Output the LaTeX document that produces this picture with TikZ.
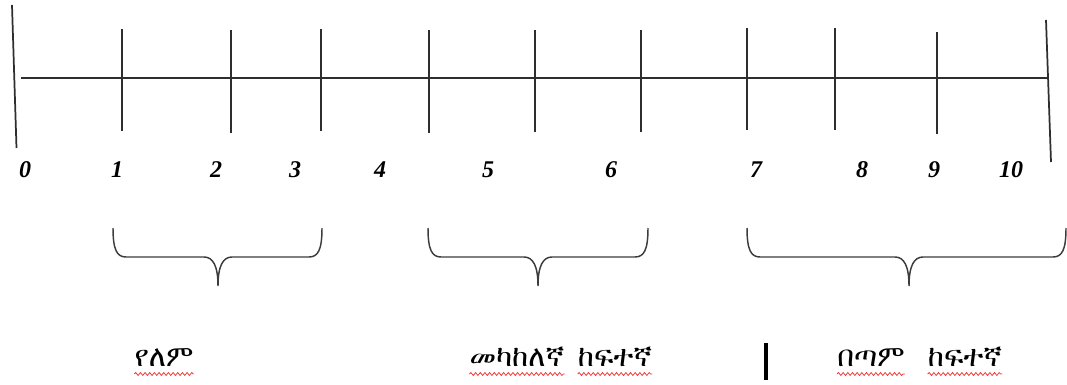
\documentclass[tikz,border=0pt]{standalone}
\usepackage{fontspec}
\setmainfont{Liberation Serif}
\IfFontExistsTF{FreeSerif}{\newfontfamily\ethfont{FreeSerif}}{%
  \IfFontExistsTF{Abyssinica SIL}{\newfontfamily\ethfont{Abyssinica SIL}}{%
    \IfFontExistsTF{FreeSans}{\newfontfamily\ethfont{FreeSans}}{\newfontfamily\ethfont{DejaVu Sans}}}}
\usetikzlibrary{positioning,decorations.pathmorphing}
\definecolor{axisgray}{HTML}{2E2E2E}
\definecolor{bracegray}{HTML}{3C3C3C}
\definecolor{spellred}{HTML}{F03C3C}
\tikzset{
  axisline/.style={draw=axisgray,line width=1.3pt},
  tickline/.style={draw=axisgray,line width=1.3pt},
  bracepath/.style={draw=bracegray,line width=1.1pt},
  numlab/.style={font=\fontsize{18}{18}\selectfont\bfseries\itshape,inner sep=0pt},
  wordlab/.style={font=\ethfont\fontsize{22}{22}\selectfont,inner sep=0pt,anchor=base},
  squiggle/.style={draw=spellred,line width=0.6pt,decorate,
    decoration={snake,amplitude=1.1pt,segment length=3.5pt}}
}

\begin{document}
\begin{tikzpicture}[x=0.75pt,y=-0.75pt]
  \useasboundingbox (0,0) rectangle (1067,385);
  % number line, 1 unit = 1 px of the scan
  \draw[axisline] (21,78) -- (1047,78);
  \draw[axisline] (12,5) -- (16.5,148);
  \draw[axisline] (1046,20) -- (1051,162);
  % tick: x / top / bottom
  \foreach \x/\t/\b in {122/29/131,231/30/133,321/29/131,429/30/133,535/30/132,
                        641/30/132,747/28/130,835/28/130,937/32/134}
    \draw[tickline] (\x,\t) -- (\x,\b);
  % numbers
  \foreach \n/\x in {0/25,1/117,2/216,3/295,4/380,5/488,6/611,7/756,8/862,9/934,10/1011}
    \node[numlab] (n\n) at (\x,170) {\n};
  % braces: left / tip / right
  \foreach \a/\m/\b in {113/218/322,428/538/648,747/909/1066}
    \draw[bracepath] (\a,228) .. controls (\a,250) and (\a+4,257) .. (\a+13,257)
      -- (\m-14,257) .. controls (\m-5,257) and (\m,266) .. (\m,286)
      .. controls (\m,266) and (\m+5,257) .. (\m+14,257)
      -- (\b-13,257) .. controls (\b-4,257) and (\b,250) .. (\b,228);
  % words under the braces
  \node[wordlab] (none) at (164,366) {የለም};
  \node[wordlab] (mid1) at (517,366) {መካከለኛ};
  \node[wordlab] (mid2) at (615,366) {ከፍተኛ};
  \node[wordlab] (very1) at (871,366) {በጣም};
  \node[wordlab] (very2) at (965,366) {ከፍተኛ};
  \foreach \w in {none,mid1,mid2,very1,very2}
    \draw[squiggle] ([yshift=-6pt]\w.base west) -- ([yshift=-6pt]\w.base east);
  % cursor
  \draw[line width=2.6pt] (766,343) -- (766,380);
\end{tikzpicture}
\end{document}
